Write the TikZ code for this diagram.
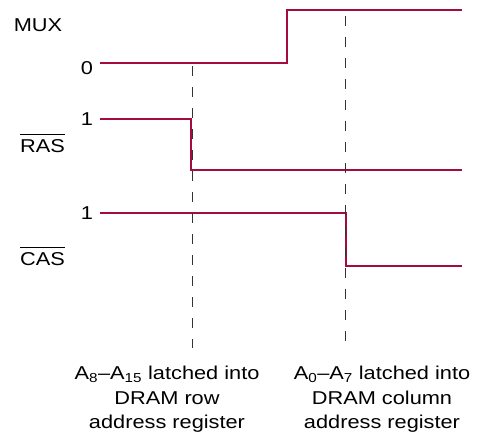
\documentclass[tikz,border=0pt]{standalone}
\usepackage{fontspec}
\setmainfont{Liberation Sans}
\newfontfamily\sigfont[FakeStretch=1.17]{Liberation Sans}
\usetikzlibrary{positioning}
\definecolor{sigred}{RGB}{163,12,60}
\newcommand\barlbl[1]{\vbox{\hrule height 1.2pt\kern 4pt\hbox{#1}}}
\tikzset{
  signal/.style={sigred,line width=2.9pt,line join=miter},
  guide/.style={black!80,line width=0.8pt,dash pattern=on 10pt off 11pt},
  lbl/.style={font=\sigfont\fontsize{18.6}{24.5}\selectfont,inner sep=0pt},
  note/.style={lbl,align=center}
}
\begin{document}
\begin{tikzpicture}[x=1pt,y=-1pt]
  \useasboundingbox (0,0) rectangle (480,436);
  % MUX
  \coordinate (muxA) at (100,63);
  \coordinate (muxB) at (287,63);
  \coordinate (muxC) at (287,10);
  \coordinate (muxD) at (462,10);
  \draw[signal] (muxA) -- (muxB) -- (muxC) -- (muxD);
  \node[lbl] (mux) at (38,25) {MUX};
  \node[lbl] (mux0) at (87,68) {0};
  % RAS
  \coordinate (rasA) at (100,119);
  \coordinate (rasB) at (191,119);
  \coordinate (rasC) at (191,170);
  \coordinate (rasD) at (462,170);
  \draw[signal] (rasA) -- (rasB) -- (rasC) -- (rasD);
  \node[lbl] (ras) at (42.5,143) {\barlbl{RAS}};
  \node[lbl] (ras1) at (87,119.5) {1};
  % CAS
  \coordinate (casA) at (100,213);
  \coordinate (casB) at (346,213);
  \coordinate (casC) at (346,266);
  \coordinate (casD) at (462,266);
  \draw[signal] (casA) -- (casB) -- (casC) -- (casD);
  \node[lbl] (cas) at (42.5,256) {\barlbl{CAS}};
  \node[lbl] (cas1) at (87,213.5) {1};
  % latch points
  \coordinate (rowTop) at (192,66);
  \coordinate (rowBot) at (192,348);
  \coordinate (colTop) at (345,16);
  \coordinate (colBot) at (345,348);
  \draw[guide] (rowTop) -- (rowBot);
  \draw[guide] (colTop) -- (colBot);
  \node[note,anchor=north] (rownote) at (167,366)
    {A\textsubscript{8}–A\textsubscript{15} latched into\\DRAM row\\address register};
  \node[note,anchor=north] (colnote) at (382,366)
    {A\textsubscript{0}–A\textsubscript{7} latched into\\DRAM column\\address register};
\end{tikzpicture}
\end{document}
